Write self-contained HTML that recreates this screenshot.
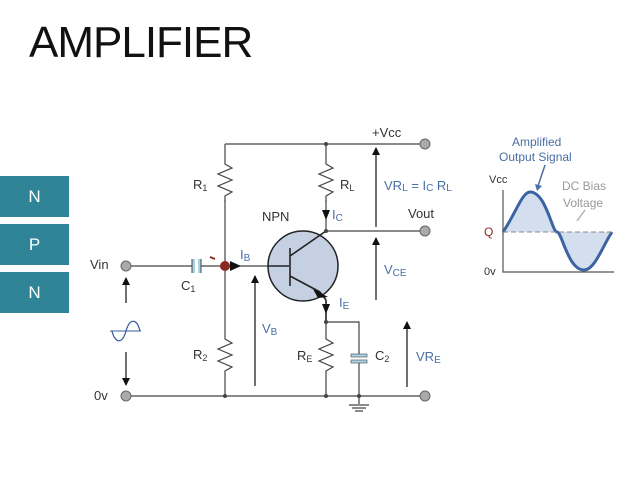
<!DOCTYPE html>
<html><head><meta charset="utf-8"><style>
body{margin:0;background:#fff;width:638px;height:479px;overflow:hidden;font-family:"Liberation Sans",sans-serif}
.t{position:absolute;left:29px;top:18px;font-size:44px;color:#111;letter-spacing:-1px}
.b{position:absolute;left:0;width:69px;height:41px;background:#2f8497;color:#fff;font-size:17px;text-align:center;line-height:41px}
</style></head><body>
<div class="t">AMPLIFIER</div>
<div class="b" style="top:176px">N</div>
<div class="b" style="top:224px">P</div>
<div class="b" style="top:272px">N</div>
<svg width="638" height="479" style="position:absolute;left:0;top:0" font-family="Liberation Sans, sans-serif">
<defs><marker id="a" markerWidth="8" markerHeight="8" refX="7" refY="4" orient="auto" markerUnits="userSpaceOnUse"><path d="M0,0 L8,4 L0,8z" fill="#111"/></marker></defs>
<g stroke="#444" stroke-width="1.2" fill="none">
<path d="M225,144 H425 M225,144 V162 M225,200 V337 M225,377 V396 M126,396 H425"/>
<path d="M225,162 l0,2 l7,4 l-14,6 l14,6 l-14,6 l14,6 l-7,4 v6"/>
<path d="M225,337 l0,2 l7,4 l-14,6 l14,6 l-14,6 l14,6 l-7,4 v6"/>
<path d="M326,144 V162 M326,200 V231 M326,231 H425"/>
<path d="M326,162 l0,2 l7,4 l-14,6 l14,6 l-14,6 l14,6 l-7,4 v6"/>
<path d="M326,322 V337 M326,377 V396 M326,322 H359 V354 M359,362 V396 M359,396 V404"/>
<path d="M326,337 l0,2 l7,4 l-14,6 l14,6 l-14,6 l14,6 l-7,4 v6"/>
<path d="M126,266 H193 M199,266 H225 V266 L268,266" />
<path d="M349,405 H369 M352,408 H366 M355,411 H363"/>
</g>
<rect x="192" y="259" width="3" height="14" fill="#a9d3e6"/><rect x="198" y="259" width="3" height="14" fill="#a9d3e6"/>
<line x1="192" y1="259" x2="192" y2="273" stroke="#444"/><line x1="201" y1="259" x2="201" y2="273" stroke="#444"/>
<rect x="351" y="354" width="16" height="3" fill="#a9d3e6" stroke="#444" stroke-width="0.6"/><rect x="351" y="360" width="16" height="3" fill="#a9d3e6" stroke="#444" stroke-width="0.6"/>
<circle cx="303" cy="266" r="35" fill="#c5d0e3" stroke="#222" stroke-width="1.5"/>
<g stroke="#222" stroke-width="1.6"><line x1="268" y1="266" x2="289" y2="266"/><line x1="290" y1="248" x2="290" y2="286"/><line x1="290" y1="256" x2="326" y2="231"/><line x1="290" y1="276" x2="320" y2="292"/><line x1="320" y1="292" x2="326" y2="300" /><line x1="326" y1="300" x2="326" y2="322"/></g>
<path d="M313,289 L328,297 L318,298z" fill="#111"/>
<circle cx="225" cy="266" r="5" fill="#8b2a22"/>
<path d="M210,257 l5,2" stroke="#8b2a22" stroke-width="2"/>
<path d="M230,261 L241,266 L230,271z" fill="#111"/>
<path d="M322,210 L326,220 L330,210z" fill="#111"/>
<path d="M322,304 L326,314 L330,304z" fill="#111"/>
<g fill="#aaa" stroke="#666" stroke-width="1"><circle cx="126" cy="266" r="5"/><circle cx="126" cy="396" r="5"/><circle cx="425" cy="144" r="5"/><circle cx="425" cy="231" r="5"/><circle cx="425" cy="396" r="5"/></g>
<g fill="#444"><circle cx="326" cy="144" r="2"/><circle cx="326" cy="231" r="2"/><circle cx="326" cy="322" r="2"/><circle cx="225" cy="396" r="2"/><circle cx="326" cy="396" r="2"/><circle cx="359" cy="396" r="2"/></g>
<g stroke="#111" stroke-width="1.2" marker-end="url(#a)">
<line x1="376" y1="227" x2="376" y2="148"/><line x1="376" y1="300" x2="376" y2="238"/>
<line x1="255" y1="386" x2="255" y2="276"/><line x1="407" y1="387" x2="407" y2="322"/>
<line x1="126" y1="303" x2="126" y2="278"/><line x1="126" y1="352" x2="126" y2="385"/>
</g>
<path d="M110,331 H141" stroke="#3b5fa0" stroke-width="1" fill="none"/>
<path d="M112,331 C115,343 122,345 126,331 C130,317 137,319 140,331" stroke="#3b5fa0" stroke-width="1.3" fill="none"/>
<g font-size="13" fill="#333">
<text x="372" y="137">+Vcc</text><text x="193" y="189">R<tspan font-size="9" dy="2">1</tspan></text>
<text x="193" y="359">R<tspan font-size="9" dy="2">2</tspan></text>
<text x="340" y="189">R<tspan font-size="9" dy="2">L</tspan></text>
<text x="297" y="360">R<tspan font-size="9" dy="2">E</tspan></text>
<text x="375" y="360">C<tspan font-size="9" dy="2">2</tspan></text>
<text x="181" y="290">C<tspan font-size="9" dy="2">1</tspan></text>
<text x="262" y="221">NPN</text><text x="408" y="218">Vout</text>
<text x="90" y="269">Vin</text><text x="94" y="400">0v</text>
</g>
<g font-size="13" fill="#4a6fa5">
<text x="384" y="190">VR<tspan font-size="10" dy="1">L</tspan><tspan dy="-1"> = I</tspan><tspan font-size="10" dy="1">C</tspan><tspan dy="-1"> R</tspan><tspan font-size="10" dy="1">L</tspan></text>
<text x="332" y="219">I<tspan font-size="10" dy="2">C</tspan></text>
<text x="240" y="259">I<tspan font-size="10" dy="2">B</tspan></text>
<text x="339" y="307">I<tspan font-size="10" dy="2">E</tspan></text>
<text x="384" y="274">V<tspan font-size="10" dy="2">CE</tspan></text>
<text x="262" y="333">V<tspan font-size="10" dy="2">B</tspan></text>
<text x="416" y="361">VR<tspan font-size="10" dy="2">E</tspan></text>
<text x="512" y="146" font-size="12">Amplified</text>
<text x="499" y="161" font-size="12">Output Signal</text>
</g>
<path d="M545,165 L538,186" stroke="#4a6fa5" stroke-width="1.5"/><path d="M535,184 L537,191 L542,186z" fill="#4a6fa5"/>
<g font-size="12" fill="#999"><text x="562" y="190">DC Bias</text><text x="563" y="207">Voltage</text></g>
<path d="M585,210 L577,221" stroke="#aaa" stroke-width="1.3"/>
<path d="M503,232 C515,215 522,192 530,192 C546,192 552,232 557,232 C562,232 568,270 584,270 C595,270 603,245 612,232 Z" fill="#c8d6ea" opacity="0.8"/>
<path d="M503,232 C515,215 522,192 530,192 C546,192 552,232 557,232 C562,232 568,270 584,270 C595,270 603,245 612,232" fill="none" stroke="#3c64a3" stroke-width="3"/>
<line x1="503" y1="232" x2="614" y2="232" stroke="#888" stroke-dasharray="5,3"/>
<path d="M503,190 V272 H614" stroke="#555" stroke-width="1.2" fill="none"/>
<text x="489" y="183" font-size="11" fill="#333">Vcc</text>
<text x="484" y="236" font-size="12" fill="#8b2a22">Q</text>
<text x="484" y="275" font-size="11" fill="#333">0v</text>
</svg>
</body></html>
